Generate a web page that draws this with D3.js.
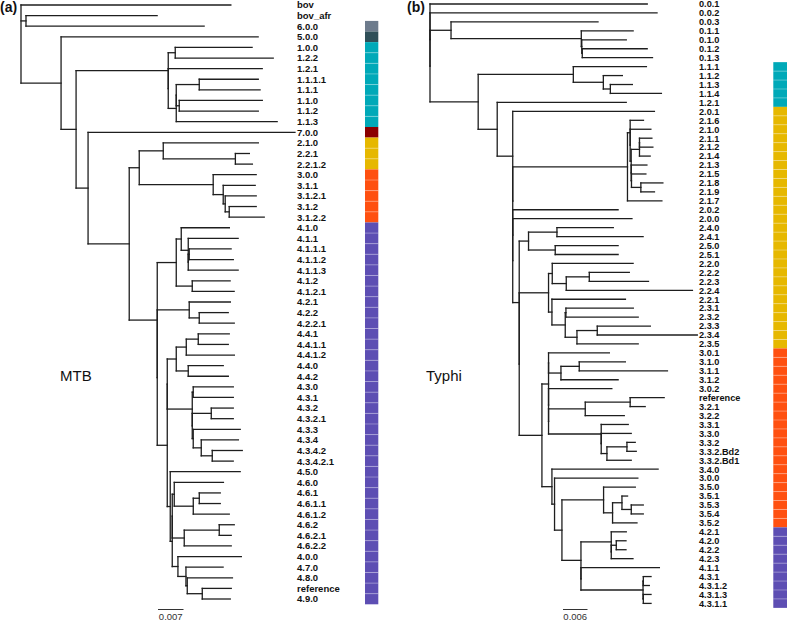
<!DOCTYPE html>
<html><head><meta charset="utf-8">
<script src="https://cdn.jsdelivr.net/npm/d3@7/dist/d3.min.js"></script>
<style>body{margin:0;background:#fff}svg{display:block}</style>
</head><body>
<svg id="chart" width="787" height="621"></svg>
<script>
// ---------------- DATA ----------------
// Branch lengths in units of 1e-3 substitutions per site
const newickMTB = "(bov:57.6,(bov_afr:36.0,6.0.0:48.9):1.37,(5.0.0:54.1,(((1.0.0:21.1,1.2.2:26.9):1.92,(1.2.1:25.8,(((1.1.1.1:16.2,1.1.1:16.7):6.31,(1.1.0:22.8,1.1.2:21.7):0.82):0,1.1.3:27.7):2.20):0):25.3,(7.0.0:56.8,(((2.1.0:26.1,(2.2.1:3.84,2.2.1.2:4.67):19.8):6.59,(3.0.0:11.8,(3.1.1:8.78,(3.1.2.1:8.51,(3.1.2:7.41,3.1.2.2:9.61):1.10):0.55):2.75):20.3):2.75,(((4.1.0:13.2,(4.1.1:13.7,((4.1.1.1:11.5,4.1.1.2:12.1):0.27,4.1.1.3:13.7):0):1.92):1.37,(4.1.2:10.4,4.1.2.1:11.5):4.39):5.22,((4.2.1:11.3,(4.2.2:7.96,4.2.2.1:9.61):2.75):8.78,(((((4.4.1:8.51,4.4.1.1:8.24):3.29,4.4.1.2:13.2):2.75,(4.4.0:9.61,4.4.2:11.0):3.29):2.47,((4.3.0:11.0,4.3.1:11.0):0.27,((4.3.2:6.04,4.3.2.1:6.04):5.22,(4.3.3:12.9,(4.3.4:10.2,(4.3.4.2:8.24,4.3.4.2.1:5.76):3.02):2.20):0.27):0):6.86):0,(4.5.0:19.2,(((4.6.0:13.5,((4.6.1:5.76,4.6.1.1:5.76):1.65,4.6.1.2:9.88):5.22):0.55,((4.6.2:4.12,4.6.2.1:3.29):9.61,4.6.2.2:12.9):3.29):0,(4.0.0:17.4,(4.7.0:10.2,(4.8.0:12.4,(reference:7.96,4.9.0:7.69):4.12):0.36):2.20):1.56):0.55):0.82):2.75):0):7.69):11.3):3.29):4.12):11.0);";

const newickTyphi = "(0.0.1:53.2,(0.0.2:55.6,((0.0.3:36.0,(0.1.1:12.7,(0.1.0:10.9,(0.1.2:15.9,0.1.3:17.2):0.12):0.12):31.9):5.15,((1.1.1:17.9,(1.1.2:4.66,(1.1.3:5.39,1.1.4:12.5):1.72):7.35):23.3,(1.2.1:31.6,(2.0.1:34.7,(((2.1.6:3.26,(2.1.0:5.07,(((2.1.1:3.04,2.1.2:3.28):0,2.1.4:2.62):2.03,(2.1.3:3.85,(2.1.5:3.53,(2.1.8:5.39,2.1.9:3.33):2.30):0.07):0):0.25):0):0.66,2.1.7:8.43):28.1,(2.0.2:25.8,(2.0.0:29.2,(((2.4.0:13.8,2.4.1:21.1):6.96,(2.5.0:15.4,2.5.1:15.4):6.54):2.28,(((2.2.0:19.8,((2.2.2:9.8,2.2.3:14.5):5.64,2.2.4:30.9):3.43):0.91,(2.2.1:18.0,((2.3.1:16.5,2.3.2:17.7):0.17,((2.3.3:13.0,2.3.4:24.5):4.97,2.3.5:15.0):2.87):3.26):0.83):7.18,(((3.0.1:14.9,((3.1.0:11.3,3.1.1:21.6):4.48,3.1.2:14.0):3.04):0,(3.0.2:15.5,(((reference:8.33,3.2.1:3.68):11.0,3.2.2:9.56):8.99,(3.3.1:6.62,(3.3.0:7.35,((3.3.2:2.03,3.3.2.Bd2:2.28):4.9,3.3.2.Bd1:5.95):1.40):0):12.9):0):0):1.62,(3.4.0:26.0,(3.0.0:20.4,((3.5.0:7.77,((3.5.1:1.37,(3.5.3:2.94,3.5.4:2.94):2.28):2.3,3.5.2:5.98):2.2):10.2,((4.2.1:3.68,((4.2.0:2.38,4.2.2:2.38):1.23,4.2.3:5.32):0):7.42,(4.1.1:19.2,((4.3.1:1.89,4.3.1.2:1.47):0.07,(4.3.1.3:1.89,4.3.1.1:1.89):0.07):15.2):0):4.66):1.81):0.64):2.45):5.56):0):1.59):0):0):0):3.80):4.66):11.8):0):0);";

const branchUnit = 0.001;
const scaleBarA = 0.007;
const scaleBarB = 0.006;

// lineage bars: [first tip, last tip, lineage]
const barsMTB = [
  ["6.0.0", "6.0.0", "6"],
  ["5.0.0", "5.0.0", "5"],
  ["1.0.0", "1.1.3", "1"],
  ["7.0.0", "7.0.0", "7"],
  ["2.1.0", "2.2.1.2", "2"],
  ["3.0.0", "3.1.2.2", "3"],
  ["4.1.0", "4.9.0", "4"]
];
const barsTyphi = [
  ["1.1.1", "1.2.1", "1"],
  ["2.0.1", "2.3.5", "2"],
  ["3.0.1", "3.5.2", "3"],
  ["4.2.1", "4.3.1.1", "4"]
];
const lineageColors = {
  "1": "#00a9b8", "2": "#e6b800", "3": "#ff5010", "4": "#5d4eb3",
  "5": "#2f4f58", "6": "#6d7b8c", "7": "#8b0000"
};

// ---------------- HELPERS ----------------
function parseNewick(s) {
  const ancestors = [];
  let tree = {};
  const tokens = s.split(/\s*(;|\(|\)|,|:)\s*/);
  for (let i = 0; i < tokens.length; i++) {
    const t = tokens[i];
    switch (t) {
      case "(": { const sub = {}; tree.children = [sub]; ancestors.push(tree); tree = sub; break; }
      case ",": { const sub = {}; ancestors[ancestors.length - 1].children.push(sub); tree = sub; break; }
      case ")": tree = ancestors.pop(); break;
      case ":": break;
      default: {
        const p = tokens[i - 1];
        if (p === ")" || p === "(" || p === ",") { if (t !== "") tree.name = t; }
        else if (p === ":") tree.length = parseFloat(t);
      }
    }
  }
  return tree;
}

const svg = d3.select("#chart");
svg.append("rect").attr("width", 787).attr("height", 621).attr("fill", "#fff");

function drawTree(cfg) {
  const root = d3.hierarchy(parseNewick(cfg.newick));
  root.eachBefore(n => {
    n.dist = n.parent ? n.parent.dist + (n.data.length || 0) * branchUnit : 0;
  });
  const leaves = root.leaves();
  const maxDist = d3.max(leaves, d => d.dist);
  const x = d3.scaleLinear().domain([0, maxDist]).range([cfg.x0, cfg.x0 + maxDist * cfg.pxPerUnit]);
  const y = d3.scalePoint().domain(leaves.map(d => d.data.name)).range([cfg.yTop, cfg.yBottom]);
  root.eachAfter(n => {
    if (n.children) n.yy = (n.children[0].yy + n.children[n.children.length - 1].yy) / 2;
    else n.yy = y(n.data.name);
  });

  const g = svg.append("g");
  const lineCol = "#1e1e1e", lw = 1.3;
  // horizontal branches
  root.descendants().filter(n => n.parent).forEach(n => {
    g.append("line").attr("x1", x(n.parent.dist)).attr("x2", x(n.dist))
      .attr("y1", n.yy).attr("y2", n.yy).attr("stroke", lineCol).attr("stroke-width", lw)
      .attr("stroke-linecap", "square");
  });
  // vertical connectors
  root.descendants().filter(n => n.children).forEach(n => {
    g.append("line").attr("x1", x(n.dist)).attr("x2", x(n.dist))
      .attr("y1", n.children[0].yy).attr("y2", n.children[n.children.length - 1].yy)
      .attr("stroke", lineCol).attr("stroke-width", lw).attr("stroke-linecap", "square");
  });
  // tip labels
  g.selectAll("text.tip").data(leaves).enter().append("text")
    .attr("x", cfg.labelX).attr("y", d => d.yy).attr("dy", "0.36em")
    .attr("font-family", "'Liberation Sans', Arial, sans-serif").attr("font-weight", "bold")
    .attr("font-size", cfg.fontSize).attr("fill", "#111").text(d => d.data.name);

  // colour bar
  const step = y.step();
  const names = y.domain();
  cfg.bars.forEach(([a, b, lin]) => {
    const i0 = names.indexOf(a), i1 = names.indexOf(b);
    for (let i = i0; i <= i1; i++) {
      g.append("rect").attr("x", cfg.barX).attr("width", cfg.barW)
        .attr("y", y(names[i]) - step / 2).attr("height", step)
        .attr("fill", lineageColors[lin]);
      if (i > i0) {
        g.append("line").attr("x1", cfg.barX).attr("x2", cfg.barX + cfg.barW)
          .attr("y1", y(names[i]) - step / 2).attr("y2", y(names[i]) - step / 2)
          .attr("stroke", "#fff").attr("stroke-opacity", 0.3).attr("stroke-width", 1);
      }
    }
  });

  // scale bar
  const len = x(cfg.scaleVal) - x(0);
  g.append("line").attr("x1", cfg.sbX).attr("x2", cfg.sbX + len).attr("y1", 609.5).attr("y2", 609.5)
    .attr("stroke", "#333").attr("stroke-width", 1);
  g.append("text").attr("x", cfg.sbX + len / 2).attr("y", 620).attr("text-anchor", "middle")
    .attr("font-family", "'Liberation Sans', Arial, sans-serif").attr("font-size", 9.5)
    .attr("fill", "#333").text(String(cfg.scaleVal));

  // panel title & name
  g.append("text").attr("x", cfg.tagX).attr("y", 12).attr("font-family", "'Liberation Sans', Arial, sans-serif")
    .attr("font-weight", "bold").attr("font-size", 14).attr("fill", "#111").text(cfg.tag);
  g.append("text").attr("x", cfg.nameX).attr("y", 381).attr("font-family", "'Liberation Sans', Arial, sans-serif")
    .attr("font-size", 15).attr("fill", "#111").text(cfg.name);
}

drawTree({
  newick: newickMTB, x0: 21, pxPerUnit: 25.5 / 0.007, yTop: 5, yBottom: 599,
  labelX: 297, fontSize: 9.5, bars: barsMTB, barX: 365, barW: 13.3,
  scaleVal: scaleBarA, sbX: 158, tag: "(a)", tagX: 0, name: "MTB", nameX: 60
});
drawTree({
  newick: newickTyphi, x0: 430, pxPerUnit: 24.5 / 0.006, yTop: 4, yBottom: 603.4,
  labelX: 699, fontSize: 9.2, bars: barsTyphi, barX: 773.3, barW: 13.7,
  scaleVal: scaleBarB, sbX: 563, tag: "(b)", tagX: 407, name: "Typhi", nameX: 426
});
</script>
</body></html>
